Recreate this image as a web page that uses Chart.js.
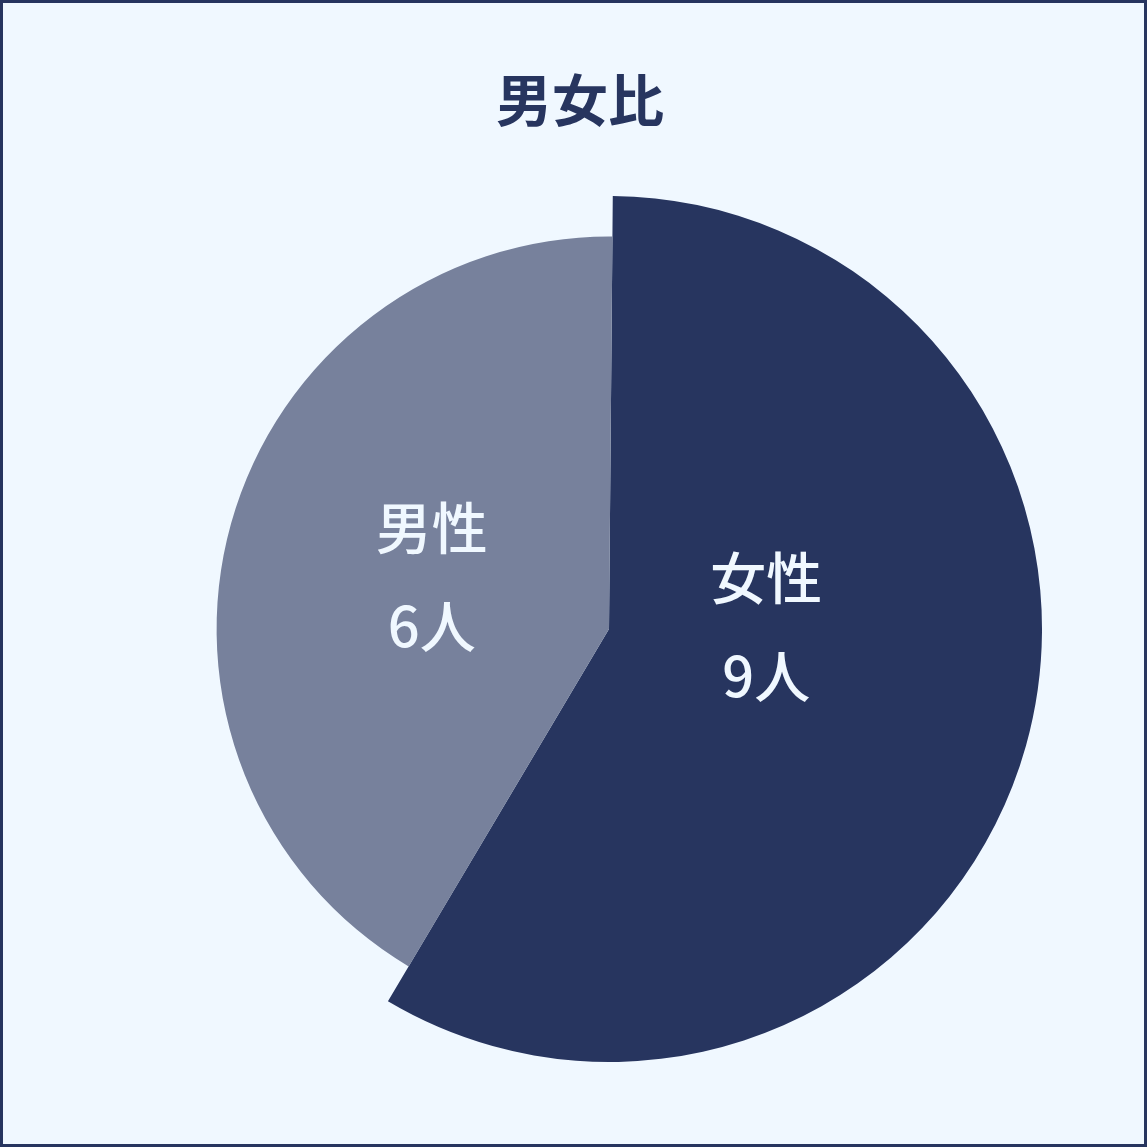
<!DOCTYPE html>
<html lang="ja">
<head>
<meta charset="utf-8">
<title>男女比</title>
<script src="https://cdn.jsdelivr.net/npm/chart.js@4"></script>
<style>
  html, body { margin: 0; padding: 0; background: #f0f8ff; }
  .frame {
    width: 1147px;
    height: 1147px;
    box-sizing: border-box;
    border: 3px solid #27355f;
    background: #f0f8ff;
  }
  canvas { display: block; }
</style>
</head>
<body>
<div class="frame">
  <canvas id="genderChart" width="1141" height="1141"></canvas>
</div>
<script>
// Chart data
const chartTitle = '男女比';
const categories = ['女性', '男性'];
const counts = [9, 6];
const unit = '人';
// slice angles in degrees
const sliceAngles = [210.2, 149.8];
const sliceColors = ['#27355f', '#77819c'];

// Draws the title and the in-slice labels
const sliceLabels = {
  id: 'sliceLabels',
  afterDatasetsDraw(chart, args, opts) {
    const ctx = chart.ctx;
    const meta = chart.getDatasetMeta(0);
    ctx.save();
    ctx.textAlign = 'center';
    ctx.textBaseline = 'middle';

    // title
    ctx.fillStyle = opts.titleColor;
    ctx.font = opts.titleFont;
    ctx.fillText(chartTitle, opts.titleX, opts.titleY);

    // labels inside slices
    ctx.fillStyle = opts.color;
    ctx.font = opts.font;
    meta.data.forEach((arc, i) => {
      const p = opts.anchors[i];
      const a = (p.angle - 90) * Math.PI / 180;
      const r = arc.outerRadius * p.dist;
      const x = arc.x + Math.cos(a) * r;
      const y = arc.y + Math.sin(a) * r;
      ctx.fillText(categories[i], x, y - opts.lineGap / 2);
      ctx.fillText(counts[i] + unit, x, y + opts.lineGap / 2);
    });
    ctx.restore();
  }
};

const genderChart = new Chart(document.getElementById('genderChart'), {
  type: 'polarArea',
  data: {
    labels: categories,
    datasets: [{
      data: counts,
      backgroundColor: sliceColors,
      borderWidth: 0,
      angle: ctx => sliceAngles[ctx.dataIndex]
    }]
  },
  options: {
    responsive: false,
    animation: false,
    layout: {
      padding: { top: 193, bottom: 81, left: 71, right: 0 }
    },
    scales: {
      r: {
        display: false,
        min: -23,
        max: 9,
        startAngle: 0.5
      }
    },
    plugins: {
      legend: { display: false },
      tooltip: { enabled: false },
      title: { display: false },
      sliceLabels: {
        titleFont: 'bold 56px "Noto Sans CJK JP"',
        titleColor: '#27355f',
        titleX: 577,
        titleY: 97,
        font: '500 56px "Noto Sans CJK JP"',
        color: '#f0f8ff',
        lineGap: 98,
        anchors: [
          { angle: 89.3, dist: 0.363 },
          { angle: 286.4, dist: 0.471 }
        ]
      }
    }
  },
  plugins: [sliceLabels]
});
</script>
</body>
</html>
